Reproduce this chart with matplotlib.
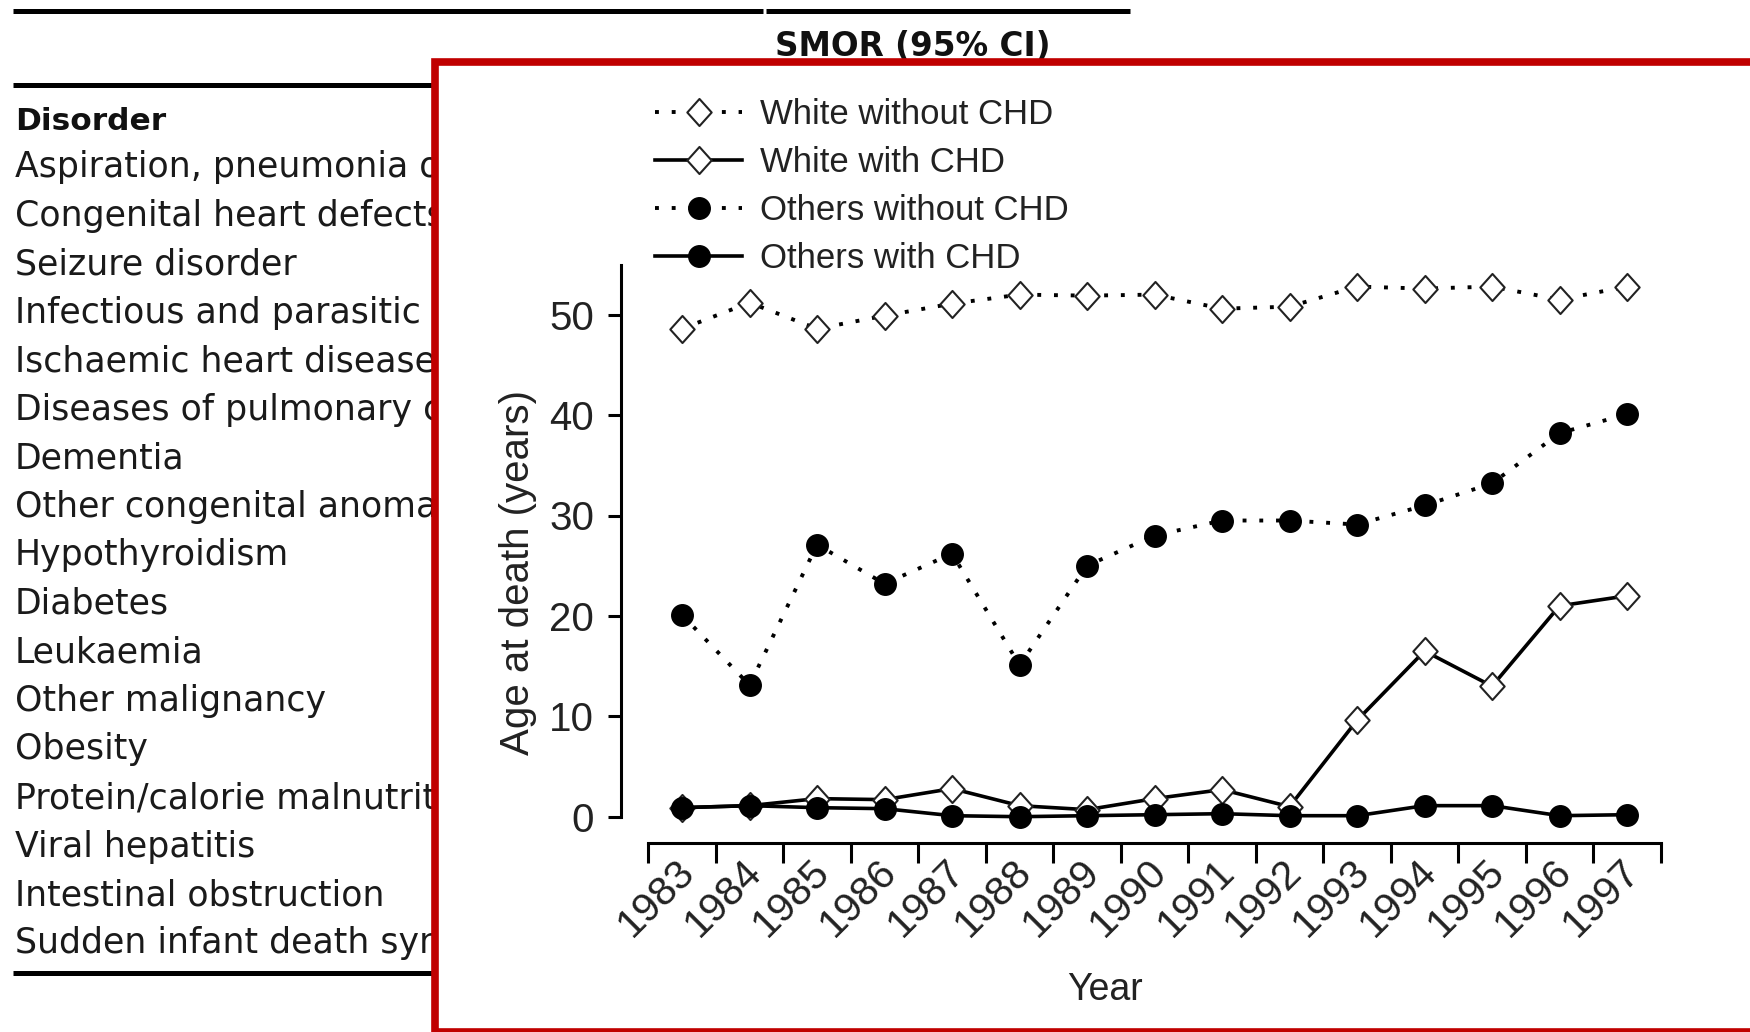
import numpy as np
import matplotlib
matplotlib.use("Agg")
import matplotlib.pyplot as plt
from matplotlib.lines import Line2D
from matplotlib.patches import Rectangle
from matplotlib.path import Path
from matplotlib.transforms import ScaledTranslation

# mean age at death, Down syndrome, by year and group
years = list(range(1983, 1998))
white_no_chd = [48.6, 51.2, 48.6, 49.9, 51.1, 52.0, 51.9, 52.0, 50.6, 50.8, 52.8, 52.6, 52.8, 51.5, 52.8]
white_chd = [0.9, 1.1, 1.8, 1.7, 2.8, 1.1, 0.7, 1.8, 2.7, 1.0, 9.6, 16.5, 13.0, 21.0, 22.0]
others_no_chd = [20.1, 13.1, 27.1, 23.2, 26.2, 15.1, 25.0, 28.0, 29.5, 29.5, 29.1, 31.0, 33.2, 38.2, 40.1]
others_chd = [0.9, 1.1, 0.9, 0.8, 0.1, 0.0, 0.1, 0.2, 0.3, 0.1, 0.1, 1.1, 1.1, 0.1, 0.2]
series_names = ["White without CHD", "White with CHD", "Others without CHD", "Others with CHD"]

# table sitting behind the inset (only the part left of the inset is shown)
table_header = "Disorder"
column_header = "SMOR (95% CI)"
disorders = ["Aspiration, pneumonia or", "Congenital heart defects", "Seizure disorder",
             "Infectious and parasitic di", "Ischaemic heart disease",
             "Diseases of pulmonary ci", "Dementia", "Other congenital anomal",
             "Hypothyroidism", "Diabetes", "Leukaemia", "Other malignancy", "Obesity",
             "Protein/calorie malnutrit", "Viral hepatitis", "Intestinal obstruction",
             "Sudden infant death syn"]

W, H = 1750, 1032
fig = plt.figure(figsize=(W / 100, H / 100), dpi=100)
fig.patch.set_facecolor("white")

def fx(px):
    return px / W

def fy(py):
    return 1 - py / H

# ---- table ----
def rule(x0, x1, y):
    fig.add_artist(Line2D([fx(x0), fx(x1)], [fy(y), fy(y)], transform=fig.transFigure,
                          color="black", lw=3.6, solid_capstyle="butt", zorder=1))

rule(13, 763, 10.8)
rule(766, 1130, 10.8)
rule(13, 700, 85)
rule(13, 700, 973)

fig.text(fx(913), fy(46), column_header, ha="center", va="center", fontsize=23.5,
         fontweight="bold", family="DejaVu Sans", color="#111111", zorder=1)
fig.text(fx(15), fy(121), table_header, ha="left", va="center", fontsize=22.5,
         fontweight="bold", family="DejaVu Sans", color="#111111", zorder=1)
for i, name in enumerate(disorders):
    fig.text(fx(15), fy(119 + (i + 1) * 48.5), name, ha="left", va="center", fontsize=25,
             family="DejaVu Sans", color="#1a1a1a", zorder=1)

# white inset with red frame covering the table
fig.add_artist(Rectangle((fx(434.5), 0), 1.0, fy(61.5), transform=fig.transFigure,
                         facecolor="white", edgecolor="#c00000", lw=5.5, zorder=5))

# ---- chart ----
ax = fig.add_axes([fx(648.3), fy(816.7), fx(1660.8) - fx(648.3), fy(264.5) - fy(816.7)])
ax.set_zorder(10)
ax.patch.set_visible(False)

diamond = Path([(0, 1), (0.9, 0), (0, -1), (-0.9, 0), (0, 1)], closed=True)
x = np.arange(len(years))
dots = (0, (1, 3.3))

ax.plot(x, white_no_chd, linestyle=dots, lw=2.8, color="black", marker=diamond, ms=19.5,
        mfc="white", mec="#222222", mew=1.5, clip_on=False, label=series_names[0])
ax.plot(x, white_chd, linestyle="-", lw=2.6, color="black", marker=diamond, ms=19.5,
        mfc="white", mec="#222222", mew=1.5, clip_on=False, label=series_names[1])
ax.plot(x, others_no_chd, linestyle=dots, lw=2.8, color="black", marker="o", ms=15.5,
        mfc="black", mec="black", clip_on=False, label=series_names[2])
ax.plot(x, others_chd, linestyle="-", lw=2.6, color="black", marker="o", ms=15.5,
        mfc="black", mec="black", clip_on=False, label=series_names[3])

ax.set_xlim(-0.5, len(years) - 0.5)
ax.set_ylim(0, 55)

for side in ["top", "right"]:
    ax.spines[side].set_visible(False)
ax.spines["left"].set_position(("outward", 19.3))
ax.spines["left"].set_bounds(0, 55)
ax.spines["bottom"].set_position(("outward", 18.9))
for side in ["left", "bottom"]:
    ax.spines[side].set_linewidth(2.2)

ax.set_yticks([0, 10, 20, 30, 40, 50])
ax.tick_params(axis="y", length=9.7, width=2.2, pad=10, labelsize=29, labelcolor="#222222")
ax.set_xticks(x)
ax.set_xticklabels([str(y) for y in years], rotation=45, ha="right", va="top",
                   rotation_mode="anchor", fontsize=29.5, color="#222222")
ax.set_xticks(np.arange(-0.5, len(years)), minor=True)
ax.tick_params(axis="x", which="major", length=0, pad=7)
ax.tick_params(axis="x", which="minor", length=14.4, width=2.2)
shift = ScaledTranslation(-0.07, 0, fig.dpi_scale_trans)
for lab in ax.get_xticklabels():
    lab.set_transform(lab.get_transform() + shift)

for lab in ax.get_xticklabels() + ax.get_yticklabels():
    lab.set_family("Liberation Sans")

ax.set_ylabel("Age at death (years)", fontsize=29, family="Liberation Sans", color="#222222")
ax.yaxis.set_label_coords(-0.110, 0.443)
ax.set_xlabel("Year", fontsize=27, family="Liberation Sans", color="#222222")
ax.xaxis.set_label_coords(0.451, -0.281)

leg = ax.legend(loc="upper left", bbox_to_anchor=(fx(655.4), fy(98.5)),
                bbox_transform=fig.transFigure, frameon=False, numpoints=1,
                prop={"family": "Liberation Sans", "size": 25},
                handlelength=2.5, handletextpad=0.5, labelspacing=0.43,
                borderpad=0, borderaxespad=0)
for t in leg.get_texts():
    t.set_color("#222222")

plt.savefig("out.png", dpi=100)
